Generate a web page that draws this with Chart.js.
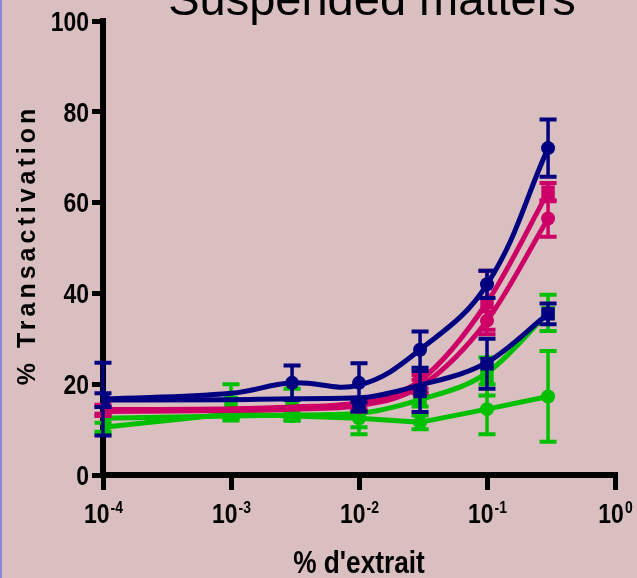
<!DOCTYPE html>
<html>
<head>
<meta charset="utf-8">
<script src="https://cdn.jsdelivr.net/npm/chart.js@4.4.1/dist/chart.umd.min.js"></script>
<style>
  html, body { margin: 0; padding: 0; background: #d9bfc0; }
  #wrap { position: relative; width: 637px; height: 578px; }
  #edge { position: absolute; left: 0; top: 0; width: 2px; height: 578px; background: #8c86d8; }
</style>
</head>
<body>
<div id="wrap">
  <canvas id="chart" width="637" height="578"></canvas>
  <div id="edge"></div>
</div>
<script>
// doses (% d'extrait)
const DOSES = [1e-4, 1e-3, 3e-3, 1e-2, 3e-2, 1e-1, 3e-1];
const X_TICKS = [1e-4, 1e-3, 1e-2, 1e-1, 1];
const X_TICK_EXP = ['-4', '-3', '-2', '-1', '0'];
const Y_TICKS = [0, 20, 40, 60, 80, 100];

// mean, error and fitted curve read at each dose (null = no point)
const navyCircles     = [16.7, null, 20.3, 20.3, 27.6, 42, 72];
const navyCirclesErr  = [8, null, 3.8, 4.3, 4, 3, 6.3];
const navyCirclesFit  = [16.7, 18, 20.3, 19.8, 27.6, 42, 72];

const navySquares     = [16.5, null, null, 15.5, 18.4, 24.5, 35.5];
const navySquaresErr  = [1.5, null, null, 1.5, 4.5, 5.5, 2.3];
const navySquaresFit  = [16.5, 16.6, 16.8, 17, 19.8, 24.8, 35.5];

const pinkSquares     = [14.5, null, null, 15.5, 20.5, 38, 62.3];
const pinkSquaresErr  = [1, null, null, 1, 1.5, 7, 2];
const pinkSquaresFit  = [14.4, 14.6, 15, 16, 20.8, 38, 62.3];

const pinkCircles     = [14, null, null, 15, 19.5, 34, 56.5];
const pinkCirclesErr  = [1, null, null, 1, 1.5, 2, 4];
const pinkCirclesFit  = [14, 14.2, 14.5, 15.3, 19.5, 34, 56.5];

const greenSquares    = [11, 16, 15.5, 13.5, 16.6, 21.7, 35.7];
const greenSquaresErr = [2, 4, 3.5, 3, 1.5, 4.2, 4];
const greenSquaresFit = [12.5, 13, 13.2, 13.6, 16.6, 22.5, 35.7];

const greenCircles    = [10.5, 13.5, 13, 12.5, 11.6, 14.5, 17.3];
const greenCirclesErr = [1, 1, 1, 3.5, 1.5, 5.5, 10];

const NAVY = '#000080';
const PINK = '#cc0066';
const GREEN = '#00c000';
const ARIAL = "'Liberation Sans', Arial, sans-serif";
const NARROW_X = 0.82; // squeeze to imitate Arial Narrow

function pts(vals, errs) {
  const out = [];
  DOSES.forEach((x, i) => {
    if (vals[i] != null) out.push({ x, y: vals[i], e: errs ? errs[i] : 0 });
  });
  return out;
}

function fitLine(vals, color, tension) {
  return {
    data: pts(vals),
    borderColor: color,
    borderWidth: 5,
    pointRadius: 0,
    tension: tension,
    cubicInterpolationMode: tension === 'mono' ? 'monotone' : 'default',
    fill: false
  };
}

function markers(vals, errs, color, style, radius) {
  return {
    data: pts(vals, errs),
    showLine: false,
    pointStyle: style,
    pointRadius: radius,
    backgroundColor: color,
    borderColor: color,
    pointBorderWidth: 0,
    errorColor: color
  };
}

const datasets = [
  fitLine(navyCirclesFit, NAVY, 0.4),
  markers(navyCircles, navyCirclesErr, NAVY, 'circle', 7),
  fitLine(navySquaresFit, NAVY, 'mono'),
  markers(navySquares, navySquaresErr, NAVY, 'rect', 9.5),
  fitLine(pinkSquaresFit, PINK, 'mono'),
  markers(pinkSquares, pinkSquaresErr, PINK, 'rect', 9.5),
  fitLine(pinkCirclesFit, PINK, 'mono'),
  markers(pinkCircles, pinkCirclesErr, PINK, 'circle', 7),
  fitLine(greenSquaresFit, GREEN, 'mono'),
  markers(greenSquares, greenSquaresErr, GREEN, 'rect', 9.5),
  fitLine(greenCircles, GREEN, 0),
  markers(greenCircles, greenCirclesErr, GREEN, 'circle', 7)
];

// vertical error bars with caps
const errorBars = {
  id: 'errorBars',
  afterDatasetDraw(chart, args) {
    const ds = chart.data.datasets[args.index];
    if (!ds.errorColor) return;
    const ctx = chart.ctx;
    const xs = chart.scales.x, ys = chart.scales.y;
    ctx.save();
    ctx.strokeStyle = ds.errorColor;
    ds.data.forEach(p => {
      if (!p.e) return;
      const px = xs.getPixelForValue(p.x);
      const top = ys.getPixelForValue(p.y + p.e);
      const bot = ys.getPixelForValue(p.y - p.e);
      ctx.lineWidth = 3.5;
      ctx.beginPath();
      ctx.moveTo(px, top); ctx.lineTo(px, bot);
      ctx.stroke();
      ctx.lineWidth = 4;
      ctx.beginPath();
      ctx.moveTo(px - 8.5, top); ctx.lineTo(px + 8.5, top);
      ctx.moveTo(px - 8.5, bot); ctx.lineTo(px + 8.5, bot);
      ctx.stroke();
    });
    ctx.restore();
  }
};

function narrowText(ctx, text, x, y, align) {
  ctx.save();
  ctx.translate(x, y);
  ctx.scale(NARROW_X, 1);
  ctx.textAlign = align;
  ctx.fillText(text, 0, 0);
  ctx.restore();
}

// title, axis titles and tick labels
const texts = {
  id: 'texts',
  afterDraw(chart) {
    const ctx = chart.ctx;
    const xs = chart.scales.x, ys = chart.scales.y;
    ctx.save();
    ctx.fillStyle = '#000';
    ctx.textBaseline = 'alphabetic';

    ctx.font = '47px ' + ARIAL;
    ctx.textAlign = 'center';
    ctx.fillText('Suspended matters', 372, 15);

    // y tick labels
    ctx.font = 'bold 28px ' + ARIAL;
    ctx.textBaseline = 'middle';
    Y_TICKS.forEach(v => narrowText(ctx, String(v), 89, ys.getPixelForValue(v) + 2, 'right'));
    ctx.textBaseline = 'alphabetic';

    // x tick labels 10^n
    X_TICKS.forEach((v, i) => {
      const px = xs.getPixelForValue(v);
      ctx.font = 'bold 28px ' + ARIAL;
      const wBase = ctx.measureText('10').width * NARROW_X;
      ctx.font = 'bold 17px ' + ARIAL;
      const wExp = ctx.measureText(X_TICK_EXP[i]).width * NARROW_X;
      const left = px - (wBase + wExp) / 2;
      ctx.font = 'bold 28px ' + ARIAL;
      narrowText(ctx, '10', left, 523, 'left');
      ctx.font = 'bold 17px ' + ARIAL;
      narrowText(ctx, X_TICK_EXP[i], left + wBase + 1, 513, 'left');
    });

    ctx.font = 'bold 32px ' + ARIAL;
    narrowText(ctx, "% d'extrait", 359, 573, 'center');

    ctx.translate(35, 247);
    ctx.rotate(-Math.PI / 2);
    ctx.textAlign = 'center';
    ctx.font = 'bold 25px ' + ARIAL;
    ctx.letterSpacing = '4px';
    ctx.fillText('% Transactivation', 2, 0);
    ctx.restore();
  }
};

new Chart(document.getElementById('chart'), {
  type: 'line',
  data: { datasets },
  options: {
    responsive: false,
    animation: false,
    devicePixelRatio: 1,
    layout: { padding: { top: 21, right: 22, left: 0, bottom: 0 } },
    plugins: { legend: { display: false }, tooltip: { enabled: false } },
    scales: {
      x: {
        type: 'logarithmic',
        min: 1e-4,
        max: 1,
        afterBuildTicks: s => { s.ticks = X_TICKS.map(v => ({ value: v })); },
        afterFit: s => { s.height = 103; },
        ticks: { callback: () => '', autoSkip: false },
        grid: { drawOnChartArea: false, tickLength: 15, lineWidth: 5, color: '#000' },
        border: { display: true, width: 6, color: '#000' }
      },
      y: {
        min: 0,
        max: 100,
        afterBuildTicks: s => { s.ticks = Y_TICKS.map(v => ({ value: v })); },
        afterFit: s => { s.width = 103; },
        ticks: { callback: () => '' },
        grid: { drawOnChartArea: false, tickLength: 11, lineWidth: 5, color: '#000' },
        border: { display: true, width: 6, color: '#000' }
      }
    }
  },
  plugins: [errorBars, texts]
});
</script>
</body>
</html>
